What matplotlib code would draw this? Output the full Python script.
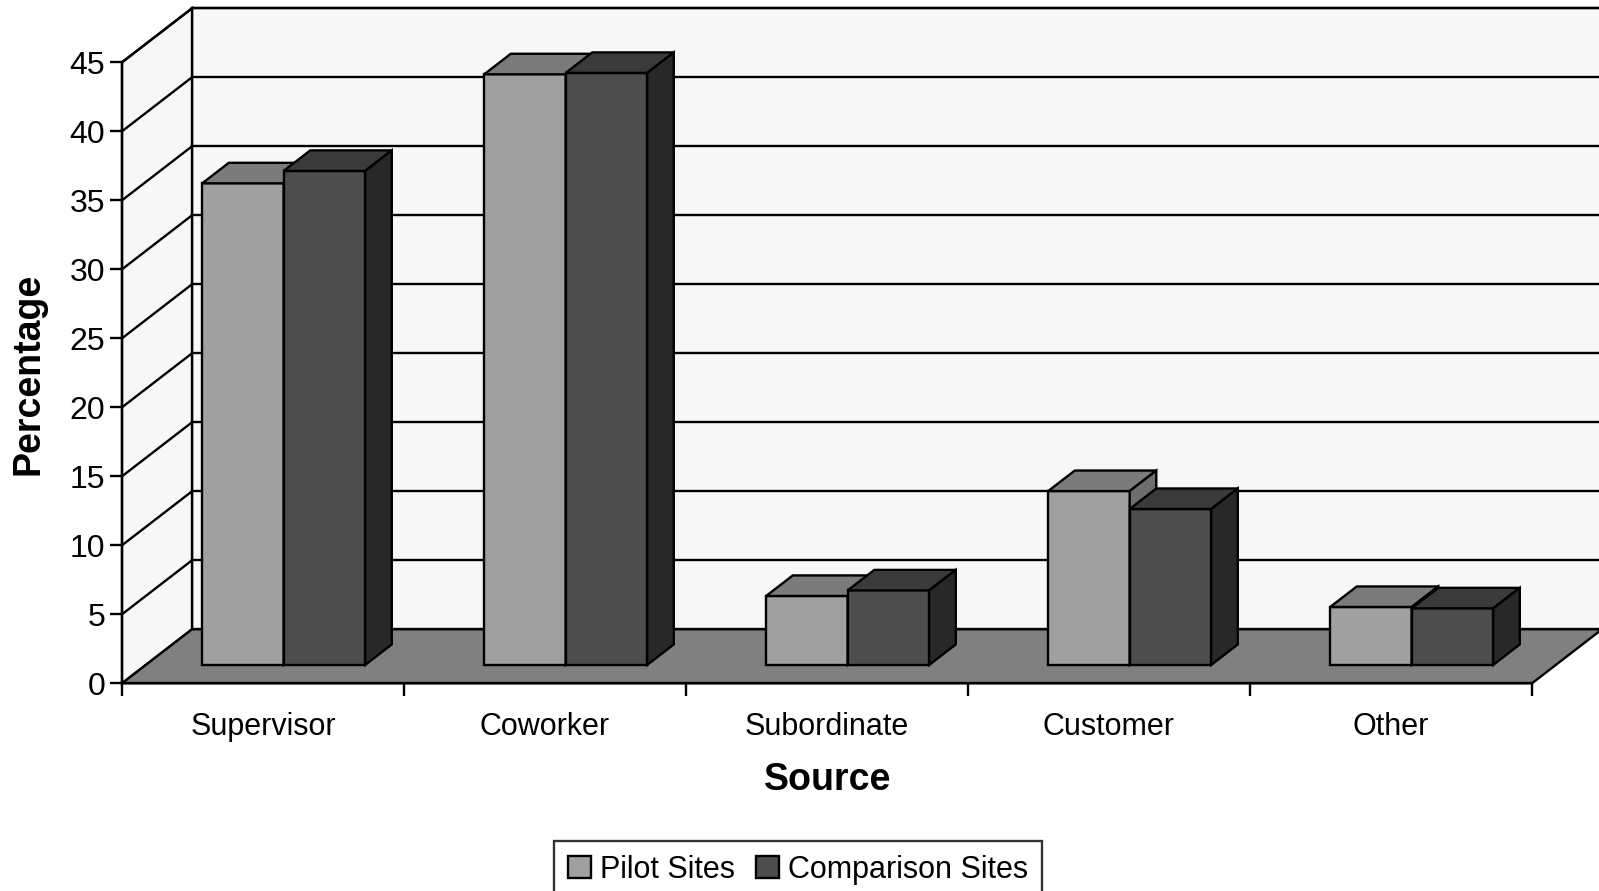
import matplotlib
matplotlib.use("Agg")
import matplotlib.pyplot as plt
from matplotlib.patches import Polygon, Patch

plt.rcParams['font.family'] = ['Liberation Sans', 'DejaVu Sans']

categories = ['Supervisor', 'Coworker', 'Subordinate', 'Customer', 'Other']
series_names = ['Pilot Sites', 'Comparison Sites']
pilot = [34.9, 42.8, 5.0, 12.6, 4.2]
comparison = [35.8, 42.9, 5.4, 11.3, 4.1]
y_ticks = [0, 5, 10, 15, 20, 25, 30, 35, 40, 45]

# face colours per series: front, top, side
face_cols = [('#a0a0a0', '#7b7b7b', '#6e6e6e'),
             ('#4d4d4d', '#3a3a3a', '#282828')]
wall_col = '#f7f7f7'
floor_col = '#808080'

# oblique projection (depth offsets in data units)
px_per_cat = 282.0
px_per_val = 13.8
dx = 70.0 / px_per_cat
dy = 54.0 / px_per_val
z0, z1 = 0.34, 0.72
bar_start = 0.2
bar_w = 0.289
ymax = 45
n = len(categories)
lw = 1.7

fig = plt.figure(figsize=(15.99, 8.91), dpi=100)
ax = fig.add_axes([0, 0, 1, 1])
ax.set_xlim(-122 / px_per_cat, (1599 - 122) / px_per_cat)
ax.set_ylim(-207.7 / px_per_val, 683.3 / px_per_val)
ax.patch.set_visible(False)


def poly(pts, fc, z=1):
    ax.add_patch(Polygon(pts, closed=True, facecolor=fc, edgecolor='black',
                         linewidth=lw, joinstyle='miter', zorder=z))


# walls and floor
right = n + dx + 1
poly([(dx, dy), (right, dy), (right, ymax + dy), (dx, ymax + dy)], wall_col)
poly([(0, 0), (dx, dy), (dx, ymax + dy), (0, ymax)], wall_col)
poly([(0, 0), (n, 0), (n + dx, dy), (dx, dy)], floor_col)

for v in y_ticks[1:]:
    ax.plot([0, dx], [v, v + dy], color='black', lw=lw, zorder=1.1)
    ax.plot([dx, right], [v + dy, v + dy], color='black', lw=lw, zorder=1.1)

# bars
for i in range(n):
    for s, vals in enumerate([pilot, comparison]):
        v = vals[i]
        xl = i + bar_start + s * bar_w
        xr = xl + bar_w
        fx, fy = z0 * dx, z0 * dy
        bx, by = z1 * dx, z1 * dy
        front, top, side = face_cols[s]
        poly([(xl + fx, fy), (xr + fx, fy), (xr + fx, v + fy), (xl + fx, v + fy)], front, 2)
        poly([(xl + fx, v + fy), (xr + fx, v + fy), (xr + bx, v + by), (xl + bx, v + by)], top, 2)
        poly([(xr + fx, fy), (xr + bx, by), (xr + bx, v + by), (xr + fx, v + fy)], side, 2)

# axes
for sp in ['top', 'right']:
    ax.spines[sp].set_visible(False)
ax.spines['left'].set_position(('data', 0))
ax.spines['bottom'].set_position(('data', 0))
ax.spines['left'].set_bounds(0, ymax)
ax.spines['bottom'].set_bounds(0, n)
ax.spines['left'].set_linewidth(lw)
ax.spines['bottom'].set_linewidth(lw)

ax.set_yticks(y_ticks)
ax.set_yticklabels([str(t) for t in y_ticks], fontsize=23)
ax.tick_params(axis='y', direction='out', length=9, width=lw, pad=3)

ax.set_xticks(range(n + 1))
ax.set_xticklabels([])
ax.set_xticks([i + 0.5 for i in range(n)], minor=True)
ax.set_xticklabels(categories, minor=True, fontsize=22)
ax.tick_params(axis='x', which='major', direction='out', length=9, width=lw)
ax.tick_params(axis='x', which='minor', length=0, pad=21)

fig.text(28.5 / 1599, 1 - 374 / 891, 'Percentage', rotation=90, fontsize=27,
         fontweight='bold', ha='center', va='center')
fig.text(828 / 1599, 1 - 780 / 891, 'Source', fontsize=27,
         fontweight='bold', ha='center', va='center')

handles = [Patch(facecolor=face_cols[k][0], edgecolor='black', linewidth=lw)
           for k in range(2)]
leg = fig.legend(handles, series_names, loc='upper center',
                 bbox_to_anchor=(798 / 1599, 1 - 841 / 891), ncol=2,
                 fontsize=22, frameon=True, fancybox=False, edgecolor='black',
                 handlelength=0.75, handleheight=0.75, handletextpad=0.3,
                 columnspacing=0.7, borderpad=0.45, borderaxespad=0)
leg.get_frame().set_linewidth(lw)

fig.savefig('out.png', dpi=100)
